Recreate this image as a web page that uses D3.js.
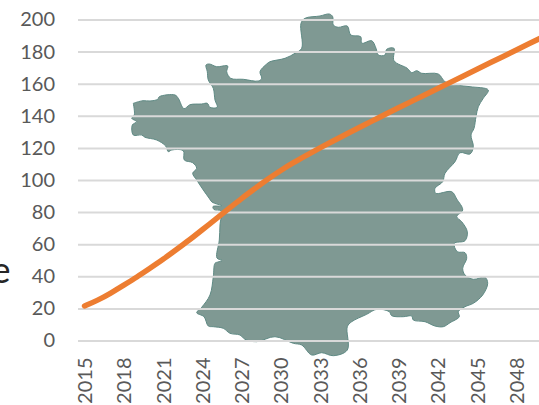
<!DOCTYPE html>
<html><head><meta charset="utf-8">
<script src="https://cdnjs.cloudflare.com/ajax/libs/d3/7.8.5/d3.min.js"></script>
<style>
html,body{margin:0;padding:0;background:#fff;overflow:hidden}
svg{display:block}
.tick text{font-family:Lato,"Open Sans",sans-serif}
</style></head><body><svg id="c" width="539" height="405"></svg>
<script>
const years=[2015,2016,2017,2018,2019,2020,2021,2022,2023,2024,2025,2026,2027,2028,2029,2030,2031,2032,2033,2034,2035,2036,2037,2038,2039,2040,2041,2042,2043,2044,2045,2046,2047,2048,2049,2050];
const values=[21.5,25,29.5,34.5,39.5,45,50.5,56.5,62.5,69,75.5,82,88.5,94.5,100.5,106,111,115.5,120,124.3,128.5,132.7,136.8,141,145,149,153,157,161,165,169,173,177,181,185,189];
const yearTicks=[2015,2018,2021,2024,2027,2030,2033,2036,2039,2042,2045,2048];
const valueTicks=[0,20,40,60,80,100,120,140,160,180,200];
const strayLabel="e";
const franceOutline=[[133.3,103.3],[143,100.7],[150,101],[157.7,99.3],[159.3,96.7],[175,95],[178.3,98.3],[184,108.7],[190,104.7],[201.7,104],[207.3,103.3],[210,107.3],[217.3,107.3],[215,100],[213.3,88.3],[208.3,80],[207.3,71.7],[206,65],[209.3,64],[216.7,66.7],[227.7,66],[226.7,71.7],[230.7,78.3],[243.3,79.3],[258.3,81],[261.7,78.3],[260,71.7],[266.7,64],[270,61.7],[285,58.3],[295,53.3],[301.7,48.3],[301,23.3],[305,18.3],[320,16],[329.3,14],[332.7,16.7],[333.3,25],[338.3,27.3],[347.3,26],[350.7,35],[360.7,36.7],[361.7,43.3],[371.7,40.7],[376,48.3],[378.3,55],[385,55],[386.7,49.3],[394,48.3],[394,60.7],[407.3,68.3],[411.7,72.7],[416.7,70.7],[421.7,73.3],[438.3,74],[445,81.7],[456.7,85],[470,86.7],[488.3,90],[483.3,98.3],[478.3,106.7],[476,116.7],[474,128.3],[471,135],[473.3,146.7],[470,154],[460,152.7],[455,161.7],[445,173.3],[442.7,181.7],[435,188.3],[435.7,193.3],[451.7,191.7],[456.7,199],[462.7,210],[456.7,216.7],[461.7,221.7],[467.3,231.7],[465,240.7],[454.3,243.3],[457.3,251.7],[465,252.7],[466.7,258.3],[462.7,268.3],[465,275],[473.3,279.3],[485,277.3],[487.7,283.3],[482.7,295],[473.3,303.3],[465,306.7],[458.3,311.7],[459.3,316.7],[450,322.7],[443.3,326.7],[435,326],[425,321.7],[413.3,320],[411.7,316],[403.3,316.7],[391.7,315.7],[389.3,311.7],[376.7,309.3],[366.7,314.3],[351.7,321.7],[347.3,326.7],[347.3,350],[333.3,355.7],[321.7,352.7],[311.7,355],[301.7,345],[293.3,343.3],[275,336.7],[256.7,341.7],[245,339.3],[240,335],[230,333.3],[223.3,328.3],[213.3,326.7],[208.3,326],[204,316.7],[196.7,312.7],[201.7,307.3],[210,295],[213.3,276.7],[215,263.3],[218,262],[222,260.5],[217,258],[219.3,240],[220,225],[221,211],[214,209.5],[213,206.5],[222,206],[212,202],[209,198],[203.3,190],[196.7,180],[192.7,173.3],[196.7,168.3],[192.7,162.7],[184.3,160],[183.3,150.7],[171.7,150],[168.3,151.7],[165.7,146],[156.7,140],[145,137.3],[141.7,135],[133.3,135],[132.3,125],[136.7,121.7],[131.7,118.3],[134.3,115]];

const svg=d3.select("#c");
const plotLeft=78,plotRight=549,plotTop=19.5,plotBottom=340.5;
const x=d3.scalePoint().domain(years).range([plotLeft,plotRight]).padding(0.5);
const y=d3.scaleLinear().domain([0,200]).range([plotBottom,plotTop]);

svg.append("path").attr("d",d3.line().curve(d3.curveCatmullRom.alpha(0.5))(franceOutline.concat([franceOutline[0]])))
  .attr("fill","#7f9993").attr("stroke","#5f8a84").attr("stroke-width",1).attr("stroke-linejoin","round");

const yAxis=svg.append("g").attr("transform",`translate(${plotLeft},0)`)
  .call(d3.axisLeft(y).tickValues(valueTicks).tickSize(-(plotRight-plotLeft)).tickPadding(23));
yAxis.select(".domain").remove();
yAxis.selectAll(".tick line").attr("stroke","#d9d9d9").attr("stroke-width",2);
yAxis.selectAll(".tick text").attr("fill","#595959").attr("font-size",20);

const xAxis=svg.append("g").attr("transform",`translate(0,${plotBottom})`)
  .call(d3.axisBottom(x).tickValues(yearTicks).tickSize(0));
xAxis.select(".domain").remove();
xAxis.selectAll(".tick text")
  .attr("fill","#595959").attr("font-size",20)
  .attr("text-anchor","end").attr("dy","0.35em").attr("dx",0)
  .attr("transform","translate(0,17) rotate(-90)").attr("x",0).attr("y",0);

svg.append("path").attr("d",d3.line().x((d,i)=>x(years[i])).y(d=>y(d)).curve(d3.curveBasis)(values))
  .attr("fill","none").attr("stroke","#ed7d31").attr("stroke-width",5.5).attr("stroke-linecap","round");

svg.append("text").text(strayLabel).attr("x",10.5).attr("y",283).attr("text-anchor","end")
  .attr("font-family","Lato,sans-serif").attr("font-size",36).attr("fill","#262626");
</script></body></html>
